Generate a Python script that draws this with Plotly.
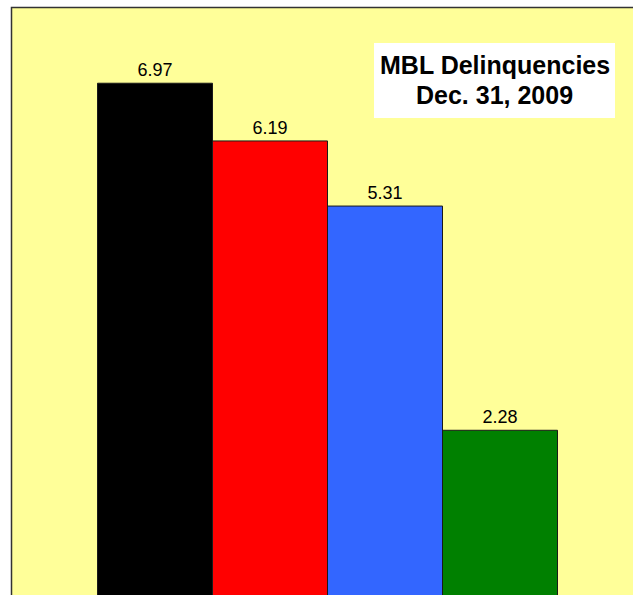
import plotly.graph_objects as go

categories = ["A", "B", "C", "D"]
values = [6.97, 6.19, 5.31, 2.28]
labels = ["6.97", "6.19", "5.31", "2.28"]
colors = ["#000000", "#FF0000", "#3366FF", "#008000"]
title_lines = ["MBL Delinquencies", "Dec. 31, 2009"]

W, H = 633, 595

fig = go.Figure()
fig.add_trace(go.Bar(
    x=list(range(len(categories))),
    y=values,
    text=labels,
    textposition="outside",
    textfont=dict(family="Liberation Sans, Arial", size=18, color="#000000"),
    marker=dict(color=colors, line=dict(color="#1a1a1a", width=1)),
    cliponaxis=False,
    width=1,
    hoverinfo="skip",
))

# pixel geometry
px_left_bar = 97.5
bar_w = 115.0
x0 = -0.5 - px_left_bar / bar_w
x1 = x0 + W / bar_w
ppu = 74.0
zero_px = 599.0
y_top = zero_px / ppu
y_bot = (zero_px - H) / ppu

title_y_px = [64.5, 95.5]

fig.update_layout(
    width=W, height=H, autosize=False,
    margin=dict(l=0, r=0, t=0, b=0, pad=0),
    paper_bgcolor="#FFFFFF",
    plot_bgcolor="rgba(0,0,0,0)",
    showlegend=False,
    bargap=0,
    xaxis=dict(range=[x0, x1], visible=False, fixedrange=True),
    yaxis=dict(range=[y_bot, y_top], visible=False, fixedrange=True),
    shapes=[
        dict(type="rect", xref="paper", yref="paper", layer="below",
             x0=11.5 / W, x1=1.05, y0=-0.05, y1=1 - 7.5 / H,
             fillcolor="#FFFF99", line=dict(color="#333333", width=1.5)),
        dict(type="rect", xref="paper", yref="paper", layer="above",
             x0=374 / W, x1=615 / W, y0=1 - 118 / H, y1=1 - 43 / H,
             fillcolor="#FFFFFF", line=dict(width=0)),
    ],
    annotations=[
        dict(xref="paper", yref="paper", x=494.5 / W, y=1 - ty / H,
             text="<b>" + line + "</b>",
             showarrow=False, xanchor="center", yanchor="middle",
             font=dict(family="Liberation Sans, Arial", size=25, color="#000000"),
             align="center")
        for line, ty in zip(title_lines, title_y_px)
    ],
)

fig.write_html(
    "out.html",
    config={"displayModeBar": False, "staticPlot": True},
    post_script="document.body.style.margin='0';document.body.style.overflow='hidden';",
)
